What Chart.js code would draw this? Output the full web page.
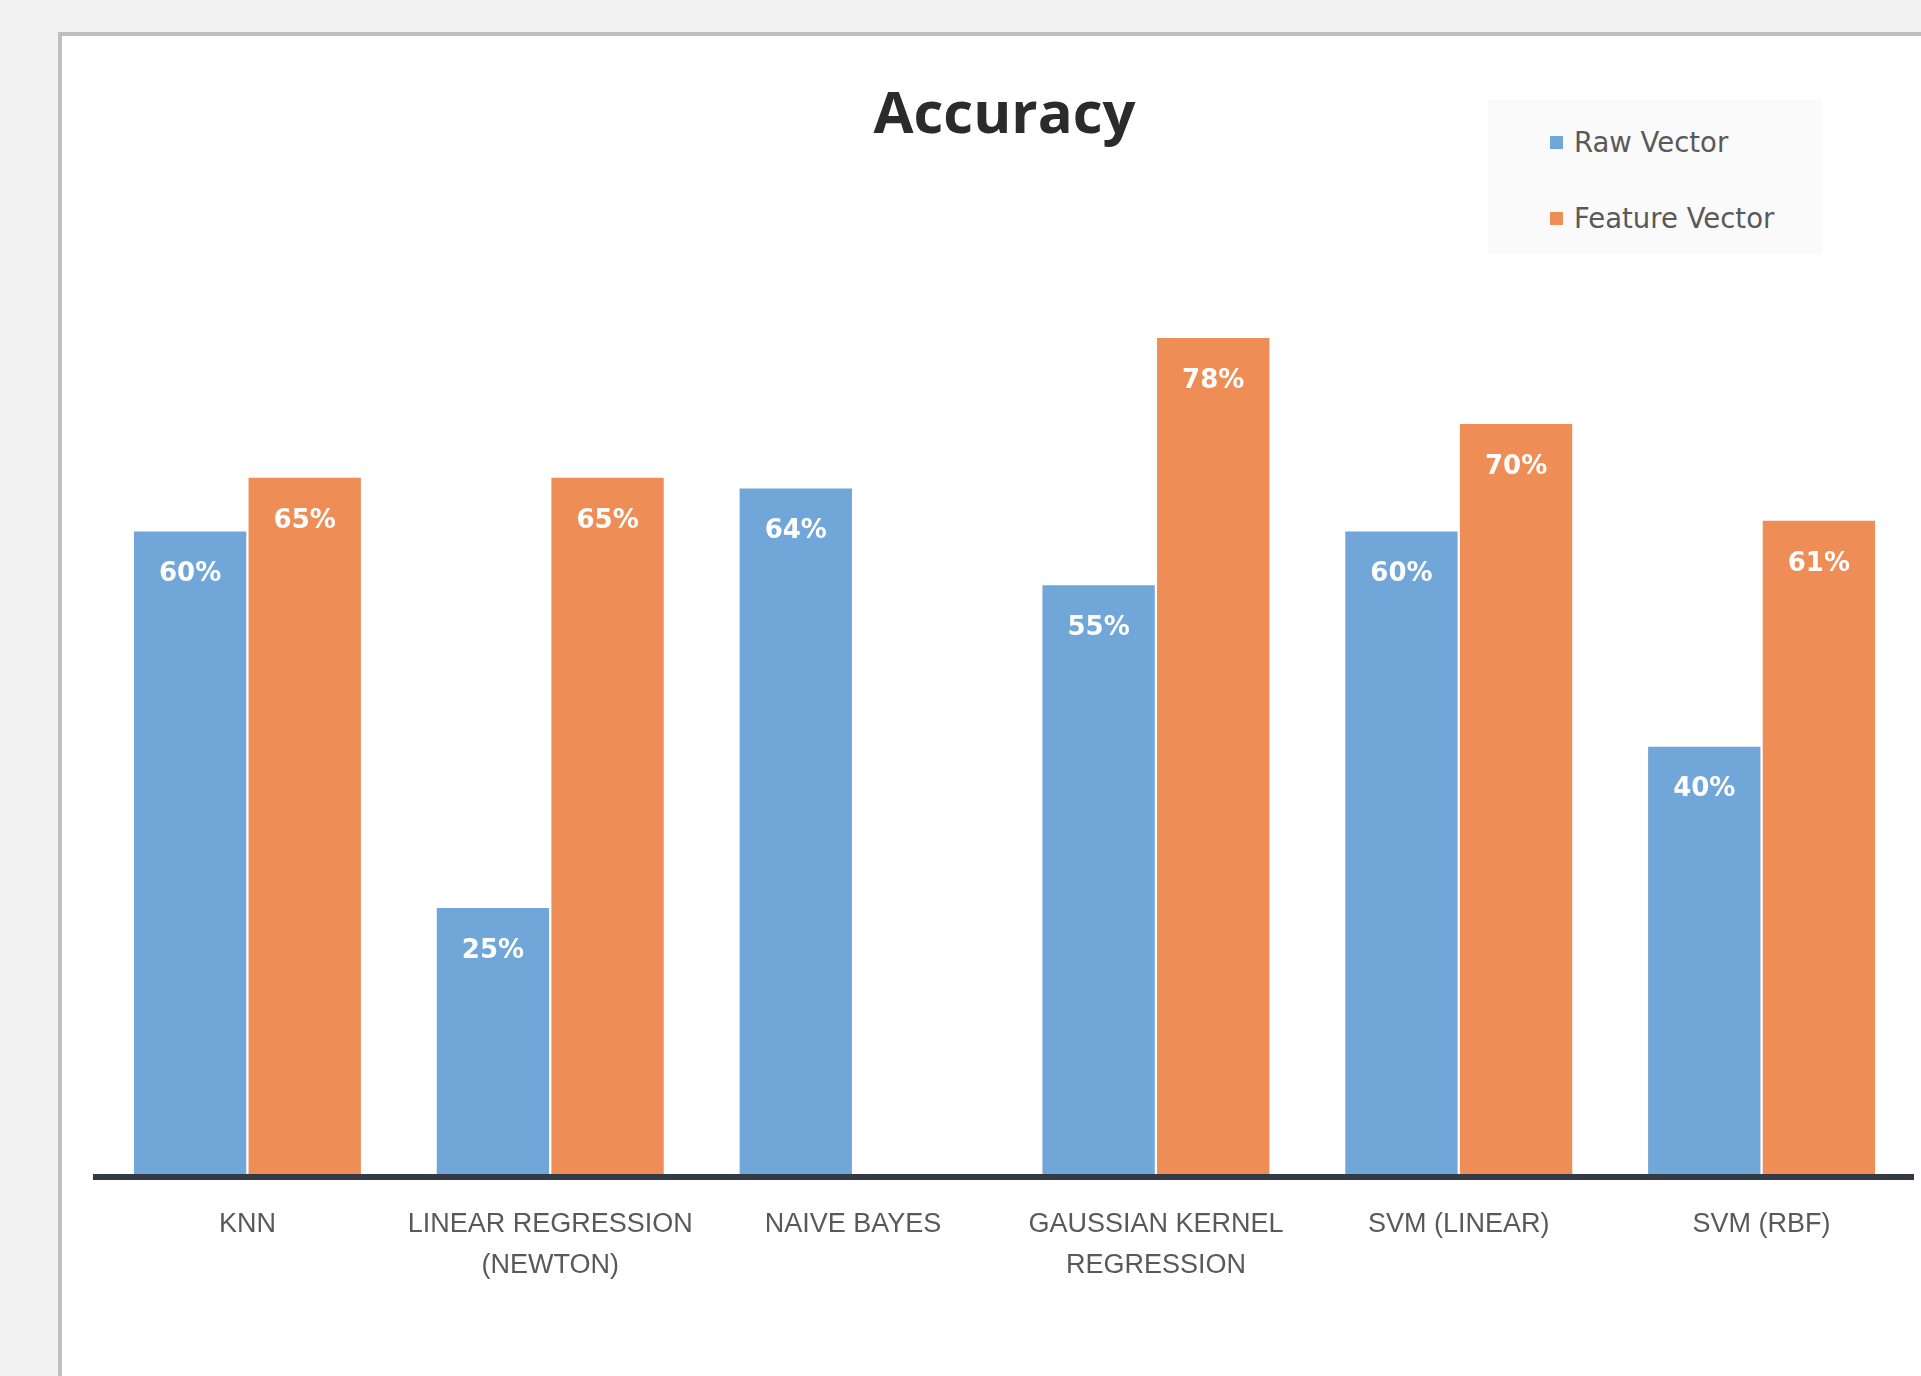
<!DOCTYPE html>
<html>
<head>
<meta charset="utf-8">
<script src="https://cdn.jsdelivr.net/npm/chart.js@4.4.1/dist/chart.umd.min.js"></script>
<style>
  html, body { margin: 0; padding: 0; width: 1921px; height: 1376px; overflow: hidden; background: #f2f2f2; }
  #panel { position: absolute; left: 58px; top: 32px; width: 1900px; height: 1400px; background: #fff;
           border-left: 4px solid #bfbfbf; border-top: 4px solid #bfbfbf; }
  #chart { position: absolute; left: 0; top: 0; }
  #legend { position: absolute; left: 1488px; top: 100px; width: 334px; height: 154px; background: #fafafa; }
  .item { position: absolute; left: 62px; height: 30px; display: flex; align-items: center;
          font: 27.5px 'DejaVu Sans', sans-serif; color: #595959; }
  .box { width: 13px; height: 13px; margin-right: 11px; }
</style>
</head>
<body>
<div id="panel"></div>
<canvas id="chart" width="1921" height="1376"></canvas>
<div id="legend"></div>
<script>
// Categories and accuracy values
const categories = [
    'KNN',
    ['LINEAR REGRESSION', '(NEWTON)'],
    'NAIVE BAYES',
    ['GAUSSIAN KERNEL', 'REGRESSION'],
    'SVM (LINEAR)',
    'SVM (RBF)'
];
const rawVector = [0.60, 0.25, 0.64, 0.55, 0.60, 0.40];
const featureVector = [0.65, 0.65, null, 0.78, 0.70, 0.61];
const seriesNames = ['Raw Vector', 'Feature Vector'];
const seriesColors = ['#71a6d8', '#ee8d55'];

// Draws the white percentage inside the top of each bar
const barLabels = {
    id: 'barLabels',
    afterDatasetsDraw(chart) {
        const ctx = chart.ctx;
        ctx.save();
        ctx.font = 'bold 26px "DejaVu Sans", sans-serif';
        ctx.fillStyle = '#ffffff';
        ctx.textAlign = 'center';
        ctx.textBaseline = 'middle';
        chart.data.datasets.forEach((ds, i) => {
            chart.getDatasetMeta(i).data.forEach((bar, j) => {
                const v = ds.data[j];
                if (v == null) return;
                ctx.fillText(Math.round(v * 100) + '%', bar.x, bar.y + 43);
            });
        });
        ctx.restore();
    }
};

const ctx = document.getElementById('chart').getContext('2d');
const chart = new Chart(ctx, {
    type: 'bar',
    data: {
        labels: categories,
        datasets: [
            { label: seriesNames[0], data: rawVector, backgroundColor: seriesColors[0] },
            { label: seriesNames[1], data: featureVector, backgroundColor: seriesColors[1] }
        ]
    },
    options: {
        responsive: false,
        animation: false,
        barPercentage: 0.98,
        categoryPercentage: 0.757,
        layout: { padding: { left: 96, right: 8, top: 0, bottom: 0 } },
        plugins: {
            legend: { display: false },
            tooltip: { enabled: false },
            title: {
                display: true,
                text: 'Accuracy',
                color: '#2b2b2b',
                font: { family: "'Open Sans', sans-serif", size: 58, weight: 'bold', lineHeight: 1.2 },
                padding: { top: 82, bottom: 111 }
            }
        },
        scales: {
            x: {
                grid: { display: false, drawTicks: false },
                border: { display: true, color: '#333a44', width: 6, z: 1 },
                ticks: {
                    color: '#595959',
                    padding: 27,
                    maxRotation: 0,
                    autoSkip: false,
                    font: { family: "'Liberation Sans Narrow', 'Liberation Sans', sans-serif", size: 27, lineHeight: 1.52 }
                },
                afterFit(scale) { scale.height = 1376 - 1177; }
            },
            y: {
                display: false,
                min: 0,
                max: 0.85
            }
        }
    },
    plugins: [barLabels]
});

// Legend built from the chart's datasets
const legend = document.getElementById('legend');
chart.data.datasets.forEach((ds, i) => {
    const item = document.createElement('div');
    item.className = 'item';
    item.style.top = (27 + i * 76) + 'px';
    item.innerHTML = '<span class="box" style="background:' + ds.backgroundColor + '"></span>' + ds.label;
    legend.appendChild(item);
});
</script>
</body>
</html>
